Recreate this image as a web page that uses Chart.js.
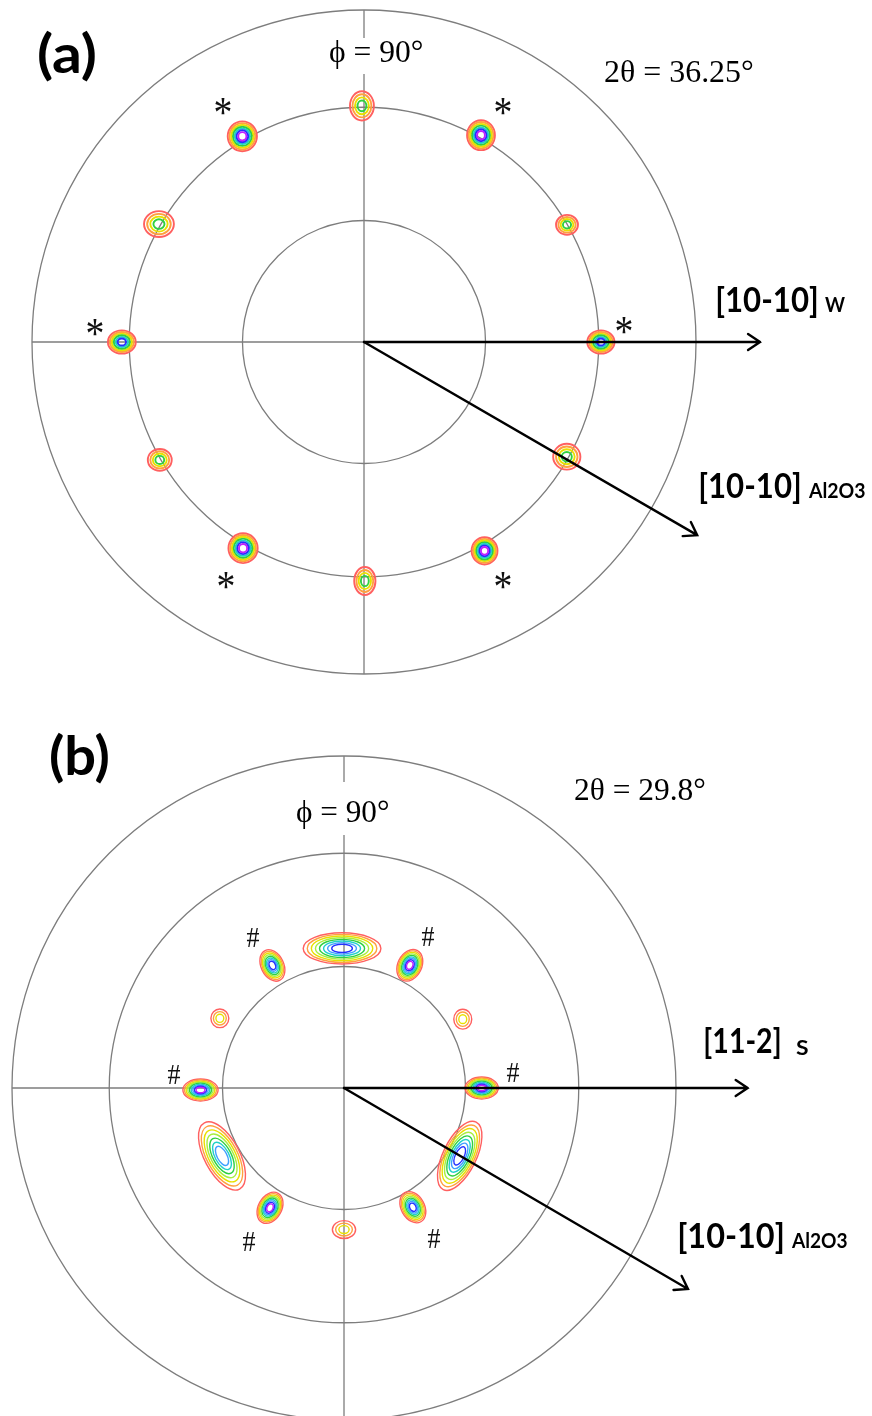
<!DOCTYPE html>
<html><head><meta charset="utf-8">
<script src="https://cdn.jsdelivr.net/npm/chart.js@4.4.1/dist/chart.umd.min.js"></script>
<style>
html,body{margin:0;padding:0;background:#fff;}
#wrap{position:relative;width:872px;height:1416px;overflow:hidden;background:#fff;}
.panel{position:absolute;left:0;}
canvas{display:block;}
</style></head><body>
<div id="wrap">
<div class="panel" style="top:0;width:872px;height:700px"><canvas id="ca" width="872" height="700"></canvas></div>
<div class="panel" style="top:700px;width:872px;height:716px"><canvas id="cb" width="872" height="716"></canvas></div>
</div>
<script>
// ---------------- DATA ----------------
// grid circles (tilt angle psi, degrees)
const gridPsi = [30, 60, 90];

// Panel (a): W poles, 2θ = 36.25°
const phiA    = [0, 30, 60.5, 90.5, 120.6, 150.1, 180, 210, 239.6, 270.2, 300, 330.5];
const psiA    = [60.6, 59.9, 60.8, 60.4, 61.2, 60.5, 62.1, 60.3, 61.2, 61.2, 61.8, 59.5];
const majA    = [0.041, 0.033, 0.042, 0.036, 0.044, 0.045, 0.042, 0.036, 0.044, 0.032, 0.039, 0.041];
const minA    = [0.035, 0.030, 0.045, 0.044, 0.045, 0.039, 0.035, 0.033, 0.045, 0.042, 0.041, 0.039];
const tiltA   = [0, 0, 0, 0, 0, 0, 0, 0, 0, 0, 0, 0];
const levelsA = [6, 4, 7, 4, 7, 4, 6, 4, 7, 4, 7, 4];
const arrowAngA = [0, -30.1];
const arrowLenA = [1.193, 1.16];

// Panel (b): S poles, 2θ = 29.8°
const phiB    = [0, 30.1, 61.8, 90.8, 120.3, 150.7, 180.8, 209.1, 238.3, 270, 300, 329.6];
const psiB    = [34.1, 34.0, 34.5, 34.6, 35.2, 35.3, 35.6, 34.6, 34.9, 35.1, 34.1, 33.2];
const majB    = [0.050, 0.030, 0.050, 0.117, 0.050, 0.028, 0.053, 0.113, 0.050, 0.035, 0.050, 0.113];
const minB    = [0.033, 0.027, 0.036, 0.047, 0.034, 0.027, 0.033, 0.053, 0.035, 0.027, 0.035, 0.050];
const tiltB   = [0, 90, 64, 0, 116, 90, 0, 118, 61, 0, 119, 64];
const levelsB = [9, 3, 9, 8, 8, 3, 9, 7, 9, 3, 8, 8];
const arrowAngB = [0, -30.3];
const arrowLenB = [1.216, 1.2];

// ---------------- STYLE / LAYOUT ----------------
const R_PX = 332;
const paletteA = ['#ff6060', '#ffa040', '#e8e000', '#30d040', '#20d0c8', '#2430ff', '#c020ff'];
const paletteB = ['#ff6060', '#ffa040', '#e8e000', '#a8ee40', '#30d040', '#20d0c8', '#40a0ff', '#2430ff', '#c020ff'];

const textsA = [
  {t:'(a)', font:'bold 54px Lato', x:38, y:73, w:57},
  {t:'\u03D5 = 90\u00B0', font:'31px "Liberation Serif"', x:330, y:62, w:92, box:[325, 38, 102, 36]},
  {t:'2\u03B8 = 36.25\u00B0', font:'32px "Liberation Serif"', x:605, y:82, w:148},
  {t:'[10-10]', font:'bold 35px Lato', x:717, y:312, w:100},
  {t:'W', font:'bold 20px Lato', x:825, y:312, w:20},
  {t:'[10-10]', font:'bold 35px Lato', x:700, y:498, w:100},
  {t:'Al2O3', font:'bold 20px Lato', x:808, y:498, w:57}
];
const glyphsA = [
  {t:'*', x:223, y:106}, {t:'*', x:503, y:106}, {t:'*', x:95, y:327},
  {t:'*', x:624, y:325}, {t:'*', x:226, y:580}, {t:'*', x:503, y:580}
];
const textsB = [
  {t:'(b)', font:'bold 54px Lato', x:50, y:75, w:58},
  {t:'\u03D5 = 90\u00B0', font:'31px "Liberation Serif"', x:297, y:122, w:91, box:[292, 82, 101, 53]},
  {t:'2\u03B8 = 29.8\u00B0', font:'32px "Liberation Serif"', x:575, y:100, w:130},
  {t:'[11-2]', font:'bold 35px Lato', x:705, y:353, w:75},
  {t:'S', font:'bold 21px Lato', x:796, y:355, w:12},
  {t:'[10-10]', font:'bold 35px Lato', x:679, y:548, w:104},
  {t:'Al2O3', font:'bold 20px Lato', x:791, y:548, w:56}
];
const glyphsB = [
  {t:'#', x:253, y:237}, {t:'#', x:428, y:236}, {t:'#', x:174, y:374},
  {t:'#', x:513, y:372}, {t:'#', x:249, y:541}, {t:'#', x:434, y:538}
];

// ---------------- HELPERS ----------------
function eqArea(psiDeg) { return Math.SQRT2 * Math.sin(psiDeg * Math.PI / 360); }

function drawFitText(ctx, o) {
  ctx.save();
  ctx.font = o.font;
  ctx.fillStyle = '#000';
  ctx.textAlign = 'left';
  ctx.textBaseline = 'alphabetic';
  const m = ctx.measureText(o.t);
  const ink = m.actualBoundingBoxLeft + m.actualBoundingBoxRight;
  const sx = o.w ? o.w / ink : 1;
  ctx.translate(o.x, o.y);
  ctx.scale(sx, 1);
  ctx.fillText(o.t, m.actualBoundingBoxLeft, 0);
  ctx.restore();
}

function drawGlyph(ctx, o, g) {
  ctx.save();
  ctx.font = g.font;
  ctx.fillStyle = '#111';
  ctx.textAlign = 'left';
  ctx.textBaseline = 'alphabetic';
  const m = ctx.measureText(o.t);
  const gw = m.actualBoundingBoxLeft + m.actualBoundingBoxRight;
  const gh = m.actualBoundingBoxAscent + m.actualBoundingBoxDescent;
  const sx = g.w / gw, sy = g.h / gh;
  ctx.translate(o.x, o.y);
  ctx.scale(sx, sy);
  ctx.fillText(o.t, m.actualBoundingBoxLeft - gw / 2, m.actualBoundingBoxAscent - gh / 2);
  ctx.restore();
}

function drawArrow(ctx, x0, y0, x1, y1) {
  const a = Math.atan2(y1 - y0, x1 - x0);
  const L = 14.5, h = 34 * Math.PI / 180;
  ctx.beginPath();
  ctx.moveTo(x0, y0); ctx.lineTo(x1, y1);
  ctx.moveTo(x1 - L * Math.cos(a - h), y1 - L * Math.sin(a - h));
  ctx.lineTo(x1, y1);
  ctx.lineTo(x1 - L * Math.cos(a + h), y1 - L * Math.sin(a + h));
  ctx.stroke();
}

function polePlugin(cfg) {
  return {
    id: 'pole_' + cfg.name,
    beforeDatasetsDraw(chart) {
      const ctx = chart.ctx, xs = chart.scales.x, ys = chart.scales.y;
      const cx = xs.getPixelForValue(0), cy = ys.getPixelForValue(0);
      ctx.save();
      ctx.strokeStyle = '#7d7d7d';
      ctx.lineWidth = 1.3;
      gridPsi.forEach(p => {
        const r = xs.getPixelForValue(eqArea(p)) - cx;
        ctx.beginPath(); ctx.arc(cx, cy, r, 0, 2 * Math.PI); ctx.stroke();
      });
      const rO = eqArea(90);
      ctx.beginPath();
      ctx.moveTo(xs.getPixelForValue(-rO), cy); ctx.lineTo(xs.getPixelForValue(rO), cy);
      ctx.moveTo(cx, ys.getPixelForValue(rO)); ctx.lineTo(cx, ys.getPixelForValue(-rO));
      ctx.stroke();
      ctx.restore();
    },
    afterDatasetsDraw(chart) {
      const ctx = chart.ctx, xs = chart.scales.x, ys = chart.scales.y;
      const cx = xs.getPixelForValue(0), cy = ys.getPixelForValue(0);
      const unit = xs.getPixelForValue(1) - cx;
      // contour spots
      const meta = chart.getDatasetMeta(0);
      ctx.save();
      ctx.lineWidth = cfg.contourWidth;
      meta.data.forEach((el, i) => {
        const a = cfg.maj[i] * unit, b = cfg.min[i] * unit;
        const rot = -cfg.tilt[i] * Math.PI / 180;
        const n = cfg.levels[i];
        for (let k = 0; k < n; k++) {
          const s = 1 - k * 0.84 / n;
          ctx.beginPath();
          ctx.ellipse(el.x, el.y, a * s, b * s, rot, 0, 2 * Math.PI);
          ctx.strokeStyle = cfg.palette[k];
          ctx.stroke();
        }
      });
      ctx.restore();
      // arrows
      ctx.save();
      ctx.strokeStyle = '#000';
      ctx.lineWidth = 2.4;
      ctx.lineCap = 'round';
      cfg.arrowAng.forEach((ang, i) => {
        const r = cfg.arrowLen[i], t = ang * Math.PI / 180;
        drawArrow(ctx, cx, cy, xs.getPixelForValue(r * Math.cos(t)), ys.getPixelForValue(r * Math.sin(t)));
      });
      ctx.restore();
      // labels
      cfg.texts.forEach(o => {
        if (o.box) { ctx.save(); ctx.fillStyle = '#fff'; ctx.fillRect(o.box[0], o.box[1], o.box[2], o.box[3]); ctx.restore(); }
        drawFitText(ctx, o);
      });
      cfg.glyphs.forEach(o => drawGlyph(ctx, o, cfg.glyph));
    }
  };
}

function buildPanel(id, cfg) {
  const cv = document.getElementById(id);
  const W = cv.width, H = cv.height;
  const pts = cfg.phi.map((p, i) => {
    const r = eqArea(cfg.psi[i]), a = p * Math.PI / 180;
    return {x: r * Math.cos(a), y: r * Math.sin(a)};
  });
  return new Chart(cv, {
    type: 'scatter',
    data: {datasets: [{label: cfg.name, data: pts, pointRadius: 0, pointHoverRadius: 0, showLine: false}]},
    options: {
      responsive: false, animation: false, devicePixelRatio: 1,
      layout: {padding: 0},
      events: [],
      plugins: {legend: {display: false}, tooltip: {enabled: false}, title: {display: false}},
      scales: {
        x: {type: 'linear', display: false, bounds: 'data', min: -cfg.cx / R_PX, max: (W - cfg.cx) / R_PX},
        y: {type: 'linear', display: false, bounds: 'data', min: -(H - cfg.cy) / R_PX, max: cfg.cy / R_PX}
      }
    },
    plugins: [polePlugin(cfg)]
  });
}

buildPanel('ca', {
  name: 'a', cx: 364, cy: 342,
  phi: phiA, psi: psiA, maj: majA, min: minA, tilt: tiltA, levels: levelsA, palette: paletteA,
  arrowAng: arrowAngA, arrowLen: arrowLenA, contourWidth: 1.9,
  texts: textsA, glyphs: glyphsA, glyph: {font: '40px "Liberation Serif"', w: 17, h: 17}
});
buildPanel('cb', {
  name: 'b', cx: 344, cy: 388,
  phi: phiB, psi: psiB, maj: majB, min: minB, tilt: tiltB, levels: levelsB, palette: paletteB,
  arrowAng: arrowAngB, arrowLen: arrowLenB, contourWidth: 1.4,
  texts: textsB, glyphs: glyphsB, glyph: {font: '30px "Liberation Serif"', w: 13, h: 19}
});
</script>
</body></html>
